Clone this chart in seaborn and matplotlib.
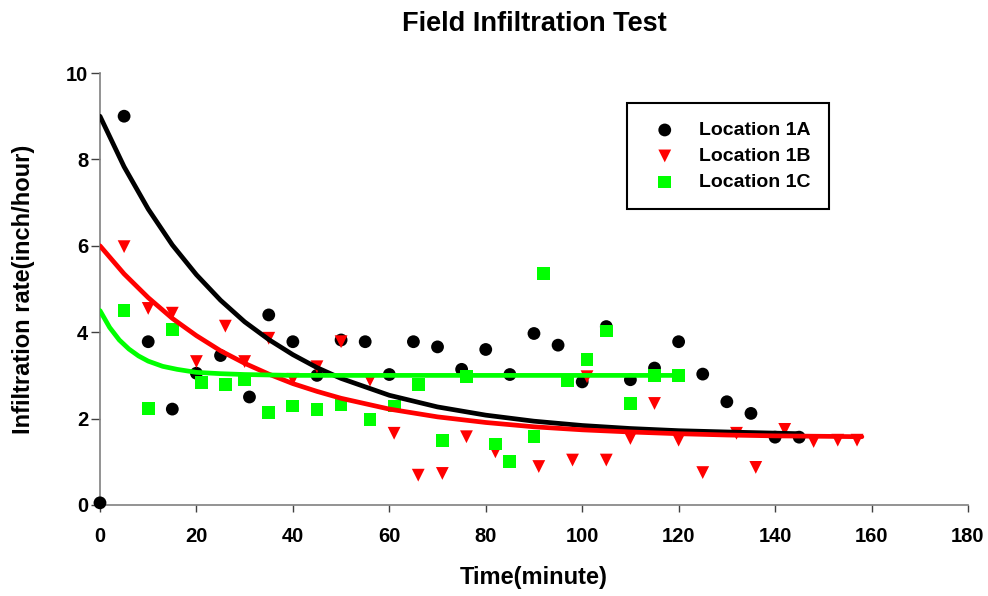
import matplotlib
matplotlib.use("Agg")
import matplotlib.pyplot as plt
import seaborn as sns
import pandas as pd

# measured points
time_1a = [0, 5, 10, 15, 20, 25, 31, 35, 40, 45, 50, 55, 60, 65, 70, 75, 80, 85, 90, 95,
           100, 105, 110, 115, 120, 125, 130, 135, 140, 145]
rate_1a = [0.05, 9.0, 3.78, 2.22, 3.05, 3.46, 2.5, 4.4, 3.78, 3.0, 3.82, 3.78, 3.02, 3.78, 3.66,
           3.14, 3.6, 3.02, 3.97, 3.7, 2.85, 4.13, 2.9, 3.17, 3.78, 3.03, 2.39, 2.12, 1.57, 1.57]

time_1b = [5, 10, 15, 20, 26, 30, 35, 40, 45, 50, 56, 61, 66, 71, 76, 82, 91, 98, 101, 105,
           110, 115, 120, 125, 132, 136, 142, 148, 153, 157]
rate_1b = [5.98, 4.55, 4.44, 3.32, 4.14, 3.32, 3.86, 2.91, 3.2, 3.78, 2.89, 1.66, 0.69, 0.73, 1.58,
           1.23, 0.89, 1.04, 2.97, 1.04, 1.54, 2.35, 1.5, 0.75, 1.66, 0.87, 1.75, 1.47, 1.5, 1.5]

time_1c = [5, 10, 15, 21, 26, 30, 35, 40, 45, 50, 56, 61, 66, 71, 76, 82, 85, 90, 92, 97,
           101, 105, 110, 115, 120]
rate_1c = [4.5, 2.24, 4.07, 2.83, 2.78, 2.91, 2.14, 2.29, 2.21, 2.33, 1.97, 2.29, 2.79, 1.5, 2.97,
           1.41, 1.0, 1.58, 5.36, 2.88, 3.36, 4.03, 2.35, 3.0, 3.0]

# fitted curves
fit_t_1a = [0, 5, 10, 15, 20, 25, 30, 35, 40, 45, 50, 60, 70, 80, 90, 100, 110, 120, 130, 145]
fit_y_1a = [9.0, 7.83, 6.85, 6.02, 5.33, 4.74, 4.24, 3.83, 3.48, 3.18, 2.93, 2.54, 2.27, 2.08,
            1.94, 1.84, 1.77, 1.72, 1.69, 1.65]

fit_t_1b = [0, 5, 10, 15, 20, 25, 30, 35, 40, 45, 50, 60, 70, 80, 90, 100, 110, 120, 130, 140,
            150, 158]
fit_y_1b = [6.0, 5.35, 4.80, 4.32, 3.92, 3.57, 3.28, 3.03, 2.81, 2.63, 2.47, 2.22, 2.04, 1.91,
            1.81, 1.74, 1.69, 1.65, 1.62, 1.60, 1.59, 1.58]

fit_t_1c = [0, 2, 4, 6, 8, 10, 13, 16, 20, 25, 30, 40, 120]
fit_y_1c = [4.5, 4.11, 3.82, 3.61, 3.45, 3.33, 3.21, 3.14, 3.07, 3.04, 3.02, 3.0, 3.0]

labels = ["Location 1A", "Location 1B", "Location 1C"]
colors = ["black", "#ff0000", "#00ff00"]
markers = ["o", "v", "s"]

points = [pd.DataFrame({"t": t, "y": y}) for t, y in
          [(time_1a, rate_1a), (time_1b, rate_1b), (time_1c, rate_1c)]]
curves = [pd.DataFrame({"t": t, "y": y}) for t, y in
          [(fit_t_1a, fit_y_1a), (fit_t_1b, fit_y_1b), (fit_t_1c, fit_y_1c)]]

sns.set_style("white")
plt.rcParams["font.family"] = ["Liberation Sans", "DejaVu Sans"]
plt.rcParams["font.weight"] = "bold"
plt.rcParams["text.color"] = "black"
plt.rcParams["axes.labelcolor"] = "black"
plt.rcParams["xtick.color"] = "black"
plt.rcParams["ytick.color"] = "black"

fig = plt.figure(figsize=(9.88, 5.96), dpi=100)
ax = fig.add_axes([0.1012, 0.1527, 0.8785, 0.7248])

for df, lab, c, m in zip(points, labels, colors, markers):
    sns.scatterplot(data=df, x="t", y="y", ax=ax, color=c, marker=m, s=85,
                    edgecolor="none", label=lab, clip_on=False, zorder=3)

for df, c in zip(curves, colors):
    sns.lineplot(data=df, x="t", y="y", ax=ax, color=c, linewidth=3.4,
                 sort=False, estimator=None, legend=False, zorder=4)

ax.set_xlim(0, 180)
ax.set_ylim(0, 10)
ax.set_xticks(range(0, 181, 20))
ax.set_yticks(range(0, 11, 2))

for side in ["top", "right"]:
    ax.spines[side].set_visible(False)
for side in ["left", "bottom"]:
    ax.spines[side].set_color("#808080")
    ax.spines[side].set_linewidth(1.2)

ax.tick_params(axis="y", direction="out", length=6.5, width=1, color="#404040",
               labelcolor="black", labelsize=14.5, pad=2, left=True)
ax.tick_params(axis="x", direction="out", length=5, width=1, color="#404040",
               labelcolor="black", labelsize=14.5, pad=11, bottom=True)
for lbl in ax.get_xticklabels() + ax.get_yticklabels():
    lbl.set_fontweight("bold")

ax.set_xlabel("Time(minute)", fontsize=17, fontweight="bold", labelpad=14, color="black")
ax.set_ylabel("Infiltration rate(inch/hour)", fontsize=17, fontweight="bold", labelpad=22,
              color="black")
ax.set_title("Field Infiltration Test", fontsize=19.5, fontweight="bold", pad=30, color="black")

leg = ax.legend(loc="upper left", bbox_to_anchor=(0.607, 0.9306),
                frameon=True, fancybox=False, shadow=False, borderpad=0.95,
                labelspacing=0.43, handletextpad=0.75, borderaxespad=0,
                prop={"weight": "bold", "size": 14})
leg.get_frame().set_edgecolor("black")
leg.get_frame().set_linewidth(1.5)
leg.get_frame().set_alpha(1)
for txt in leg.get_texts():
    txt.set_color("black")

fig.savefig("out.png", dpi=100)
